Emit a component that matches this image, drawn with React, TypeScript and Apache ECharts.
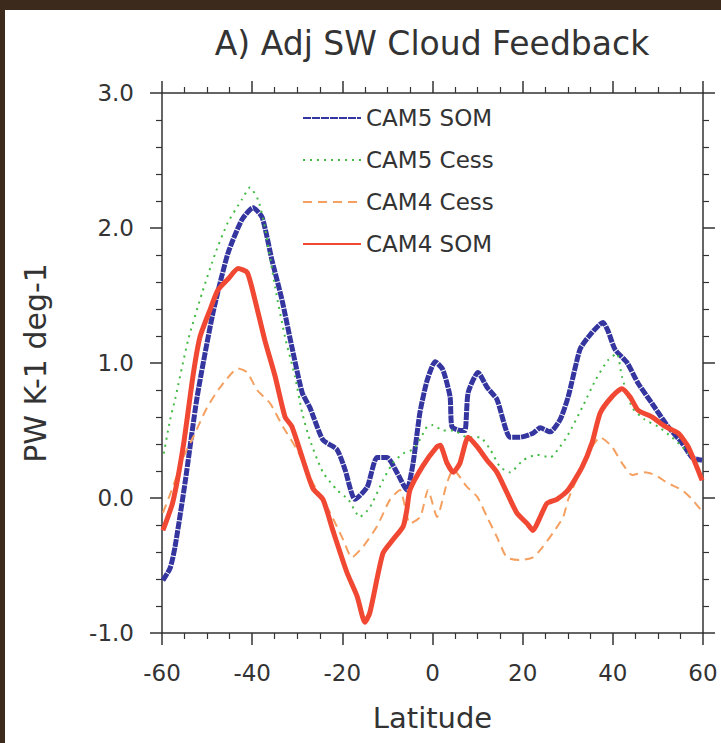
import React, { useEffect, useRef } from "react";
import * as echarts from "echarts";

const titleText = "A) Adj SW Cloud Feedback";
const xName = "Latitude";
const yName = "PW K-1 deg-1";
const seriesNames = ["CAM5 SOM", "CAM5 Cess", "CAM4 Cess", "CAM4 SOM"];

const cam5SomLat = [-59.8,-58.2,-57.1,-54.9,-52.2,-48.7,-45.4,-42.3,-39.8,-37.8,-35.6,-33.4,-31.2,-28.9,-27.2,-24.3,-21.2,-19.4,-17.2,-14.5,-12.3,-10.1,-7.9,-5.7,-4.3,-2.8,-1.2,0.6,2.3,3.9,4.3,6.1,7.2,7.9,10.1,12.1,14.3,17.2,19.4,22.3,23.9,26.1,28.3,30.1,32.7,34.5,37.8,38.9,40.5,43.2,45.6,48.7,52.2,55.3,57.6,59.8];
const cam5SomVal = [-0.61,-0.52,-0.36,0.11,0.75,1.37,1.81,2.06,2.15,2.08,1.76,1.47,1.12,0.78,0.67,0.43,0.36,0.21,-0.01,0.08,0.30,0.30,0.19,0.06,0.26,0.63,0.87,1.01,0.95,0.75,0.53,0.50,0.50,0.78,0.93,0.82,0.73,0.45,0.45,0.48,0.52,0.49,0.58,0.75,1.10,1.19,1.30,1.24,1.10,1.00,0.85,0.70,0.53,0.41,0.30,0.28];

const cam5CessLat = [-59.6,-58.2,-57.1,-54.2,-51.1,-48.2,-45.4,-42.3,-40.5,-38.7,-37.2,-34.9,-32.7,-30.5,-28.9,-27.2,-24.3,-21.2,-18.7,-16.1,-13.9,-11.0,-8.8,-6.5,-4.3,-2.5,-1.2,0.1,2.3,4.6,7.7,10.5,12.8,15.0,17.2,20.1,23.2,26.1,28.3,30.1,33.2,36.1,38.9,40.9,42.0,44.3,47.1,50.0,53.1,56.0,58.9];
const cam5CessVal = [0.33,0.58,0.73,1.17,1.52,1.81,2.04,2.21,2.30,2.21,2.01,1.56,1.19,0.90,0.63,0.43,0.19,0.06,-0.01,-0.14,-0.07,0.13,0.26,0.33,0.36,0.45,0.53,0.54,0.50,0.50,0.45,0.45,0.36,0.23,0.19,0.28,0.32,0.30,0.38,0.47,0.67,0.87,1.02,1.07,0.90,0.67,0.58,0.53,0.45,0.36,0.26];

const cam4CessLat = [-59.8,-57.6,-55.3,-53.1,-50.0,-47.1,-43.1,-41.1,-38.9,-36.0,-33.2,-30.1,-26.5,-22.7,-19.8,-17.9,-15.4,-12.3,-9.4,-7.2,-5.0,-2.7,-1.0,1.0,3.2,4.6,7.7,9.9,12.1,14.3,16.5,19.4,22.3,24.5,26.7,29.0,30.1,33.2,35.4,37.2,39.8,42.0,44.3,47.1,49.4,52.2,55.3,57.6,59.8];
const cam4CessVal = [-0.11,0.08,0.30,0.45,0.67,0.82,0.96,0.93,0.80,0.70,0.53,0.36,0.11,-0.11,-0.31,-0.44,-0.36,-0.21,-0.01,0.06,-0.19,-0.14,0.06,-0.14,0.11,0.21,0.08,0.01,-0.14,-0.29,-0.44,-0.46,-0.44,-0.36,-0.26,-0.14,-0.01,0.23,0.38,0.45,0.38,0.26,0.17,0.19,0.17,0.11,0.06,-0.01,-0.10];

const cam4SomLat = [-59.8,-57.6,-55.3,-53.1,-51.6,-49.4,-47.6,-45.4,-43.1,-41.1,-39.4,-37.2,-34.9,-32.7,-31.2,-28.7,-26.5,-24.3,-22.1,-19.0,-16.7,-15.0,-13.9,-11.0,-8.8,-6.5,-5.7,-5.0,-2.1,1.0,1.7,3.2,4.6,6.1,7.9,9.9,12.1,14.3,16.5,18.7,21.0,22.3,23.9,25.4,27.6,30.1,33.2,35.4,37.2,39.8,42.0,43.8,45.6,48.7,51.6,54.5,56.7,59.8];
const cam4SomVal = [-0.24,-0.03,0.38,0.91,1.19,1.39,1.54,1.62,1.70,1.67,1.47,1.17,0.90,0.60,0.53,0.28,0.07,-0.01,-0.24,-0.55,-0.73,-0.92,-0.85,-0.41,-0.31,-0.21,-0.09,0.06,0.24,0.38,0.39,0.26,0.19,0.26,0.45,0.38,0.28,0.19,0.04,-0.11,-0.19,-0.24,-0.14,-0.04,-0.01,0.06,0.23,0.41,0.63,0.75,0.81,0.75,0.65,0.60,0.53,0.48,0.38,0.13];

const FONT = "DejaVu Sans";
const INK = "#333";

const pair = (lat: number[], val: number[]) => lat.map((x, i) => [x, val[i]]);

export default function App() {
  const ref = useRef<HTMLDivElement>(null);
  useEffect(() => {
    if (!ref.current) return;
    const chart = echarts.init(ref.current, undefined, { renderer: "svg" });
    const axisLine = { show: true, onZero: false, lineStyle: { color: INK, width: 1.5 } };
    const tick = { show: true, length: 12, lineStyle: { color: INK, width: 1.5 } };
    const minor = (n: number) => ({ show: true, splitNumber: n, length: 6, lineStyle: { color: INK, width: 1.2 } });
    const label = { fontFamily: FONT, fontSize: 23, color: INK };
    chart.setOption({
      animation: false,
      backgroundColor: "#ffffff",
      title: {
        text: titleText,
        left: 432,
        top: 27,
        padding: 0,
        textAlign: "center",
        textStyle: { fontFamily: FONT, fontSize: 33, fontWeight: "normal", color: INK },
      },
      legend: {
        orient: "vertical",
        left: 302,
        top: 106,
        padding: 0,
        itemWidth: 58,
        itemHeight: 24,
        itemGap: 18,
        data: seriesNames,
        itemStyle: { opacity: 0 },
        textStyle: { fontFamily: FONT, fontSize: 23, color: INK, lineHeight: 24 },
      },
      grid: { left: 162, right: 18, top: 93, bottom: 110, containLabel: false },
      xAxis: [
        {
          type: "value", min: -60, max: 60, interval: 20, position: "bottom",
          axisLine, axisTick: tick, minorTick: minor(4), splitLine: { show: false },
          axisLabel: { ...label, margin: 28 },
          name: xName, nameLocation: "middle", nameGap: 70,
          nameTextStyle: { fontFamily: FONT, fontSize: 29, color: INK },
        },
        {
          type: "value", min: -60, max: 60, interval: 20, position: "top",
          axisLine, axisTick: tick, minorTick: minor(4), splitLine: { show: false },
          axisLabel: { show: false },
        },
      ],
      yAxis: [
        {
          type: "value", min: -1, max: 3, interval: 1, position: "left",
          axisLine, axisTick: tick, minorTick: minor(5), splitLine: { show: false },
          axisLabel: { ...label, margin: 28, formatter: (v: number) => v.toFixed(1) },
          name: yName, nameLocation: "middle", nameGap: 112,
          nameTextStyle: { fontFamily: FONT, fontSize: 30, color: INK },
        },
        {
          type: "value", min: -1, max: 3, interval: 1, position: "right",
          axisLine, axisTick: tick, minorTick: minor(5), splitLine: { show: false },
          axisLabel: { show: false },
        },
      ],
      graphic: [
        { type: "rect", shape: { x: 0, y: 0, width: 721, height: 10 }, style: { fill: "#3c2b1c" }, z: 100 },
        { type: "rect", shape: { x: 0, y: 0, width: 5, height: 743 }, style: { fill: "#3c2b1c" }, z: 100 },
      ],
      series: [
        {
          name: seriesNames[0], type: "line", data: pair(cam5SomLat, cam5SomVal),
          showSymbol: false, symbol: "none", smooth: 0.2, z: 2,
          color: "#3535a0", lineStyle: { color: "#3535a0", width: 5, type: [8, 1] },
        },
        {
          name: seriesNames[1], type: "line", data: pair(cam5CessLat, cam5CessVal),
          showSymbol: false, symbol: "none", smooth: 0.2, z: 3,
          color: "#44bb44", lineStyle: { color: "#44bb44", width: 2, type: [2, 5] },
        },
        {
          name: seriesNames[2], type: "line", data: pair(cam4CessLat, cam4CessVal),
          showSymbol: false, symbol: "none", smooth: 0.2, z: 4,
          color: "#f5a060", lineStyle: { color: "#f5a060", width: 2, type: [9, 6] },
        },
        {
          name: seriesNames[3], type: "line", data: pair(cam4SomLat, cam4SomVal),
          showSymbol: false, symbol: "none", smooth: 0.2, z: 5,
          color: "#f04832", lineStyle: { color: "#f04832", width: 5 },
        },
      ],
    });
    return () => chart.dispose();
  }, []);
  return (
    <div
      ref={ref}
      style={{ position: "fixed", left: 0, top: 0, width: 721, height: 743 }}
    />
  );
}
